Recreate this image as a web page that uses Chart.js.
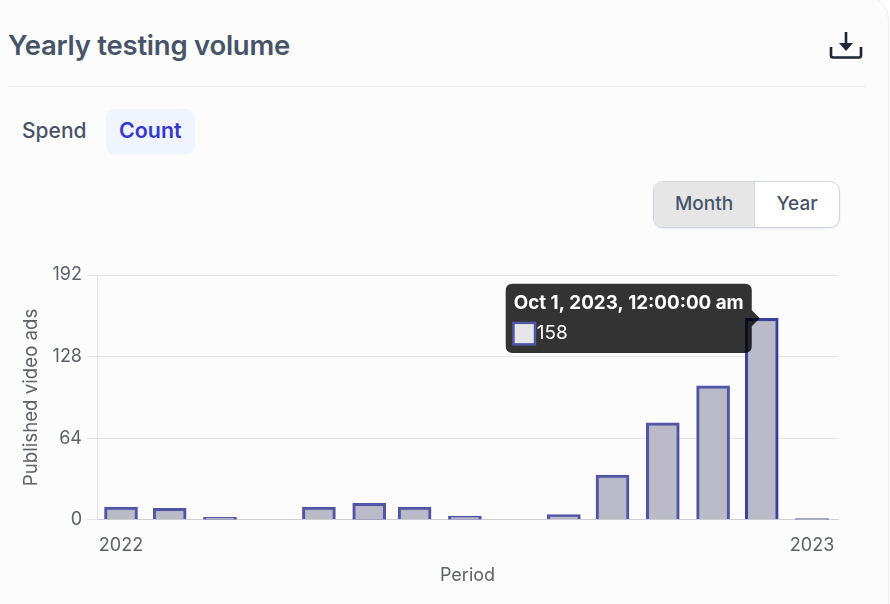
<!DOCTYPE html>
<html><head><meta charset="utf-8">
<style>
html,body{margin:0;padding:0;width:890px;height:604px;overflow:hidden;background:#fff;font-family:Inter,sans-serif;}
#card{position:absolute;left:-30px;top:-6px;width:917px;height:640px;border:1px solid #eeeef0;border-radius:26px;background:#fcfcfd;}
.t{position:absolute;white-space:nowrap;line-height:1;}
#title{left:8px;top:32px;font-size:27.5px;font-weight:600;color:#475467;letter-spacing:-0.25px;}
#rule{position:absolute;left:8px;top:86px;width:858px;height:1px;background:#e8e9ec;}
#spend{left:22px;top:120px;font-size:21px;font-weight:500;color:#475467;}
#countbg{position:absolute;left:106px;top:109px;width:89px;height:45px;border-radius:8px;background:#eff4ff;}
#count{left:119px;top:120px;font-size:21.4px;font-weight:600;color:#3538cd;}
#seg{position:absolute;left:653px;top:181px;width:185px;height:45px;border:1px solid #d0d5dd;border-radius:10px;overflow:hidden;display:flex;background:#fff;box-shadow:0 1px 2px rgba(16,24,40,.08);}
#seg div{display:flex;align-items:center;justify-content:center;font-size:19px;font-weight:500;color:#475467;padding-bottom:2px;box-sizing:border-box;}
#m{width:101px;background:#e6e6e7;border-right:1px solid #d0d5dd;}
#y{flex:1;}
#dl{position:absolute;left:828px;top:30px;}
#wrap{position:absolute;left:0;top:250px;width:890px;height:354px;}
</style></head><body>
<div id="card"></div>
<div class="t" id="title">Yearly testing volume</div>
<svg id="dl" width="36" height="32" viewBox="0 0 36 32" fill="none" stroke="#1d2433" stroke-width="2.6">
<path d="M3 17v8.5a2 2 0 0 0 2 2h26a2 2 0 0 0 2-2V17"/><path d="M18 2v17"/><path d="M11 13l7 8 7-8z" fill="#1d2433" stroke="none"/></svg>
<div id="rule"></div>
<div class="t" id="spend">Spend</div>
<div id="countbg"></div>
<div class="t" id="count">Count</div>
<div id="seg"><div id="m">Month</div><div id="y">Year</div></div>
<div id="wrap"><canvas id="c" width="890" height="354"></canvas></div>
<script src="https://cdn.jsdelivr.net/npm/chart.js@4"></script>
<script>
const periods=["2022-09-01","2022-10-01","2022-11-01","2022-12-01","2023-01-01","2023-02-01","2023-03-01","2023-04-01","2023-05-01","2023-06-01","2023-07-01","2023-08-01","2023-09-01","2023-10-01","2023-11-01"];
const counts=[10,9,2,0,10,13,10,3,0,4,35,76,105,158,1];
const yTicks=[0,64,128,192];
const xTickLabels=["2022","2023"];
const tooltipTitle="Oct 1, 2023, 12:00:00 am";
const activeIndex=13;
const xs=periods.map(p=>Date.parse(p));
const DAY=864e5;
const textColor="#5f6168";
const F="Inter, sans-serif";
const chart=new Chart(document.getElementById('c'),{
 type:'bar',
 data:{datasets:[{
  data:xs.map((x,i)=>({x:x,y:counts[i]})),
  backgroundColor:'rgba(182,182,198,0.95)',
  hoverBackgroundColor:'rgba(182,182,198,0.95)',
  borderColor:'#5255a6',
  hoverBorderColor:'#3d3f9e',
  borderWidth:3,
  hoverBorderWidth:3,
  barThickness:33
 }]},
 options:{
  responsive:false,animation:false,
  layout:{padding:{left:20,right:52,top:25,bottom:18}},
  scales:{
   x:{type:'linear',offset:false,min:xs[0]-14.8*DAY,max:xs[14]+16*DAY,
    grid:{display:false,drawTicks:false,offset:false},border:{color:'#cfd0d4'},
    afterBuildTicks(a){a.ticks=[{value:xs[0]},{value:xs[14]}];},
    ticks:{autoSkip:false,maxRotation:0,color:textColor,font:{family:F,size:18},padding:15,
      callback(v){return v===xs[0]?xTickLabels[0]:xTickLabels[1];}},
    title:{display:true,text:'Period',color:textColor,font:{family:F,size:18},padding:{top:-7,bottom:0}}},
   y:{min:0,max:192,
    afterBuildTicks(a){a.ticks=yTicks.map(v=>({value:v}));},
    afterFit(s){s.width=77;},
    grid:{color:'#e2e3e6',tickLength:10},border:{color:'#e2e3e6'},
    ticks:{color:textColor,font:{family:F,size:18},padding:5},
    title:{display:true,text:'Published video ads',color:textColor,font:{family:F,size:18.7},padding:{top:0,bottom:0}}}
  },
  plugins:{legend:{display:false},
   tooltip:{enabled:true,backgroundColor:'rgba(0,0,0,0.8)',
    titleFont:{family:F,size:18.8,weight:'bold'},bodyFont:{family:F,size:19},
    titleColor:'#fff',bodyColor:'#fff',padding:8,cornerRadius:7,caretSize:8,caretPadding:2,
    xAlign:'right',yAlign:'center',titleMarginBottom:8,boxPadding:0,boxWidth:21,boxHeight:21,
    callbacks:{title:()=>tooltipTitle,label:c=>String(c.parsed.y),
     labelColor:()=>({borderColor:'#5255a6',backgroundColor:'#e6e6e8',borderWidth:3})}}
  }
 }
});
chart.setActiveElements([{datasetIndex:0,index:activeIndex}]);
chart.tooltip.setActiveElements([{datasetIndex:0,index:activeIndex}],{x:0,y:0});
chart.update();
</script>
</body></html>
